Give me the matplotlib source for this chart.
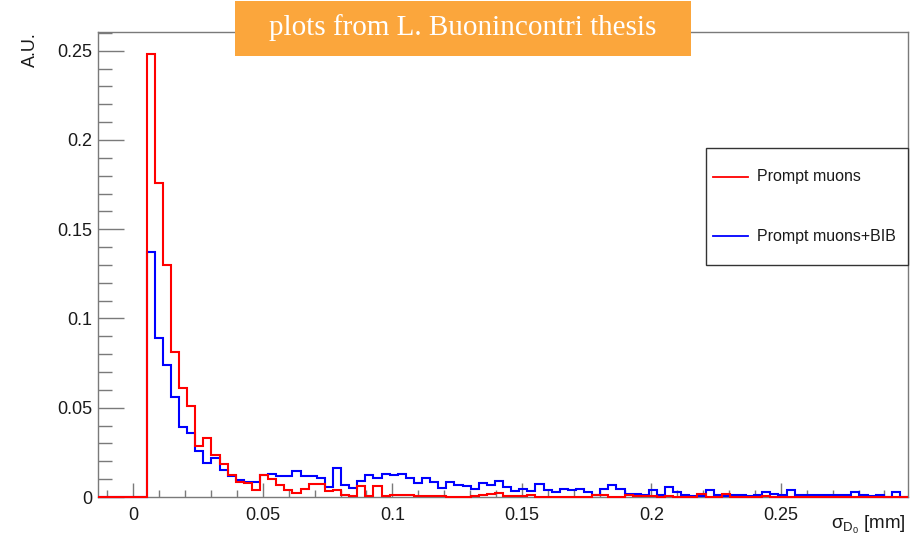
import numpy as np
import matplotlib
matplotlib.use("Agg")
import matplotlib.pyplot as plt
from matplotlib.patches import Rectangle
from matplotlib.lines import Line2D
from matplotlib.ticker import MultipleLocator, FixedLocator, FixedFormatter

plt.rcParams['font.family'] = ['Liberation Sans', 'DejaVu Sans']
plt.rcParams['mathtext.fontset'] = 'custom'
plt.rcParams['mathtext.rm'] = 'Liberation Sans'
plt.rcParams['mathtext.it'] = 'Liberation Sans'
plt.rcParams['mathtext.default'] = 'regular'

# --- Histogram data (100 bins) ---
x_lo, x_hi = -0.01363, 0.2991
n_bins = 100

prompt_muons = [
    0, 0, 0, 0, 0, 0, 0.248, 0.176, 0.130, 0.0815,
    0.061, 0.0508, 0.0288, 0.0329, 0.0236, 0.0187, 0.0123, 0.0085, 0.0078, 0.0037,
    0.0123, 0.0103, 0.0067, 0.0039, 0.0020, 0.0046, 0.0075, 0.0072, 0.0035, 0.0037,
    0.0010, 0.0005, 0.0060, 0.0005, 0.0060, 0.0008, 0.0010, 0.0010, 0.0010, 0.0005,
    0.0005, 0.0005, 0.0005, 0, 0, 0, 0.0005, 0.0010, 0.0018, 0.0020,
    0.0005, 0.0005, 0.0005, 0.0010, 0, 0, 0, 0, 0, 0,
    0, 0.0010, 0.0010, 0, 0, 0.0010, 0.0005, 0.0005, 0.0005, 0,
    0.0005, 0, 0, 0, 0.0019, 0, 0, 0.0019, 0, 0,
    0, 0, 0.0005, 0, 0, 0, 0, 0, 0, 0,
    0, 0, 0, 0, 0, 0, 0, 0, 0, 0,
]

prompt_muons_bib = [
    0, 0, 0, 0, 0, 0, 0.137, 0.089, 0.074, 0.056,
    0.039, 0.036, 0.026, 0.019, 0.022, 0.015, 0.012, 0.0095, 0.0085, 0.0083,
    0.0125, 0.0130, 0.0118, 0.0118, 0.0145, 0.0118, 0.0118, 0.0105, 0.0055, 0.0160,
    0.0065, 0.0050, 0.0090, 0.0125, 0.0105, 0.0130, 0.0125, 0.0130, 0.0105, 0.0080,
    0.0108, 0.0085, 0.0050, 0.0085, 0.0065, 0.0060, 0.0045, 0.0080, 0.0065, 0.0090,
    0.0055, 0.0035, 0.0045, 0.0035, 0.0075, 0.0037, 0.0028, 0.0047, 0.0037, 0.0047,
    0.0030, 0.0010, 0.0047, 0.0070, 0.0047, 0.0015, 0.0019, 0.0013, 0.0040, 0.0013,
    0.0056, 0.0028, 0.0010, 0.0006, 0.0006, 0.0037, 0.0013, 0.0006, 0.0010, 0.0013,
    0.0003, 0.0010, 0.0028, 0.0019, 0.0012, 0.0037, 0.0013, 0.0010, 0.0010, 0.0010,
    0.0010, 0.0010, 0.0010, 0.0028, 0.0013, 0.0006, 0.0013, 0, 0.0028, 0,
]

x_major = [0, 0.05, 0.1, 0.15, 0.2, 0.25]
x_major_labels = ["0", "0.05", "0.1", "0.15", "0.2", "0.25"]
y_major = [0, 0.05, 0.1, 0.15, 0.2, 0.25]
y_major_labels = ["0", "0.05", "0.1", "0.15", "0.2", "0.25"]
legend_labels = ["Prompt muons", "Prompt muons+BIB"]

# --- Figure ---
W, H = 916, 545
fig = plt.figure(figsize=(W / 100, H / 100), dpi=100)
ax = fig.add_axes([98 / W, (H - 497) / H, 810 / W, 465 / H])

edges = np.linspace(x_lo, x_hi, n_bins + 1)
ax.stairs(prompt_muons_bib, edges, color='#0000ff', linewidth=1.5, clip_on=False, zorder=3)
ax.stairs(prompt_muons, edges, color='#ff0000', linewidth=1.5, clip_on=False, zorder=4)

ax.set_xlim(x_lo, x_hi)
ax.set_ylim(0, 0.2605)

frame_col = '#7a7a7a'
for s in ax.spines.values():
    s.set_color(frame_col)
    s.set_linewidth(1.0)

ax.xaxis.set_major_locator(FixedLocator(x_major))
ax.xaxis.set_major_formatter(FixedFormatter(x_major_labels))
ax.xaxis.set_minor_locator(MultipleLocator(0.01))
ax.yaxis.set_major_locator(FixedLocator(y_major))
ax.yaxis.set_major_formatter(FixedFormatter(y_major_labels))
ax.yaxis.set_minor_locator(MultipleLocator(0.01))

ax.tick_params(axis='x', which='major', direction='in', length=10, width=1,
               color=frame_col, labelsize=13, pad=7, labelcolor='#1a1a1a')
ax.tick_params(axis='x', which='minor', direction='in', length=5, width=1, color=frame_col)
ax.tick_params(axis='y', which='major', direction='in', length=19, width=1,
               color=frame_col, labelsize=13, pad=4, labelcolor='#1a1a1a')
ax.tick_params(axis='y', which='minor', direction='in', length=10, width=1, color=frame_col)

# axis titles (ROOT style, at the axis ends)
fig.text(30 / W, 1 - 32 / H, "A.U.", rotation=90, ha='center', va='top',
         fontsize=13, color='#1a1a1a')
fig.text(906 / W, 1 - 525 / H, r"$\sigma_{D_{0}}$ [mm]", ha='right', va='center',
         fontsize=13.5, color='#1a1a1a')

# legend box
leg_l, leg_r, leg_t, leg_b = 706, 908, 148, 265
fig.patches.append(Rectangle((leg_l / W, 1 - leg_b / H), (leg_r - leg_l) / W,
                             (leg_b - leg_t) / H, transform=fig.transFigure,
                             facecolor='white', edgecolor='#333333', linewidth=1.0, zorder=5))
for label, col, yy in zip(legend_labels, ['#ff0000', '#0000ff'], [177, 236]):
    fig.lines.append(Line2D([713 / W, 748 / W], [1 - yy / H, 1 - yy / H],
                            transform=fig.transFigure, color=col, linewidth=1.3, zorder=6))
    fig.text(757 / W, 1 - yy / H, label, ha='left', va='center', fontsize=11.5,
             color='#1a1a1a', zorder=6)

# orange banner
fig.patches.append(Rectangle((235 / W, 1 - 55.7 / H), 456 / W, 54.7 / H,
                             transform=fig.transFigure, facecolor='#fba63c',
                             edgecolor='none', zorder=7))
fig.text(463 / W, 1 - 28 / H, "plots from L. Buonincontri thesis", ha='center',
         va='center', fontsize=21, color='white', family='Liberation Serif', zorder=8)

fig.savefig("out.png", dpi=100)
